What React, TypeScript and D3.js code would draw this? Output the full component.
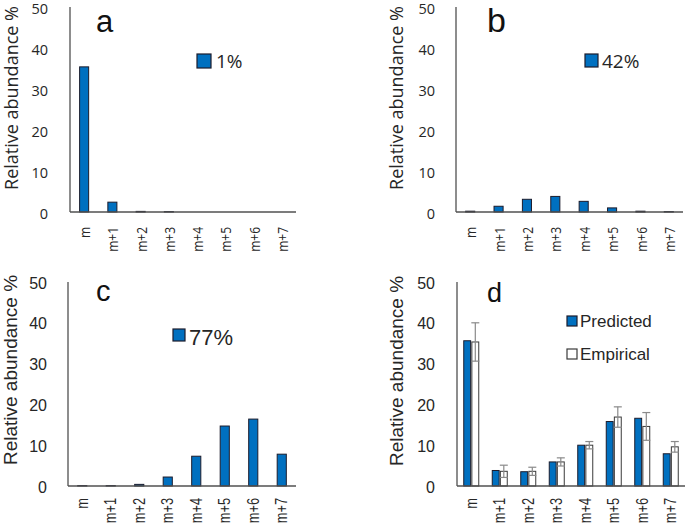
import React from "react";
import * as d3 from "d3";

const categories = ["m", "m+1", "m+2", "m+3", "m+4", "m+5", "m+6", "m+7"];
const yTicks = [0, 10, 20, 30, 40, 50];

const valuesA = [35.4, 2.4, 0.15, 0.1, 0, 0, 0, 0];
const valuesB = [0.2, 1.4, 3.1, 3.8, 2.6, 1.0, 0.2, 0.1];
const valuesC = [0.1, 0.1, 0.4, 2.2, 7.3, 14.7, 16.4, 7.8];
const predictedD = [35.6, 3.8, 3.5, 5.9, 10.0, 15.8, 16.6, 7.9];
const empiricalD = [35.3, 3.6, 3.6, 5.9, 10.0, 16.9, 14.6, 9.6];
const empiricalErrD = [4.7, 1.5, 1.0, 1.0, 0.9, 2.5, 3.4, 1.3];

const legendA = "1%";
const legendB = "42%";
const legendC = "77%";
const seriesD = ["Predicted", "Empirical"];

const BLUE = "#0070C0";
const BAR_STROKE = "#1c1c2c";
const AXIS = "#505050";
const TEXT = "#262626";

type Layout = {
  axisX: number;
  y0: number;
  yTop: number;
  xRight: number;
  font: string;
  tickSize: number;
  xTickSize: number;
  yTickRight: number;
  yLabelX: number;
  yLabelY: number;
  yLabelSize: number;
  xLabelY: number;
  letter: string;
  letterX: number;
  letterY: number;
  letterSize: number;
};

function Axes({ L, x, y }: { L: Layout; x: d3.ScaleBand<string>; y: d3.ScaleLinear<number, number> }) {
  return (
    <g fontFamily={L.font} fill={TEXT}>
      <line x1={L.axisX} x2={L.axisX} y1={y(50)} y2={y(0)} stroke={AXIS} strokeWidth={1.3} />
      <line x1={L.axisX} x2={L.xRight} y1={y(0)} y2={y(0)} stroke={AXIS} strokeWidth={1.3} />
      {yTicks.map((t) => (
        <text key={t} x={L.yTickRight} y={y(t) + 1} textAnchor="end" dominantBaseline="central" fontSize={L.tickSize}>
          {t}
        </text>
      ))}
      {categories.map((c) => {
        const cx = (x(c) as number) + x.bandwidth() / 2;
        return (
          <text
            key={c}
            transform={`translate(${cx},${L.xLabelY}) rotate(-90) scale(0.8,1)`}
            textAnchor="end"
            dominantBaseline="central"
            fontSize={L.xTickSize}
          >
            {c}
          </text>
        );
      })}
      <text
        transform={`translate(${L.yLabelX},${L.yLabelY}) rotate(-90)`}
        textAnchor="middle"
        fontSize={L.yLabelSize}
      >
        Relative abundance %
      </text>
      <text x={L.letterX} y={L.letterY} fontFamily="Liberation Sans, Arial, sans-serif" fontSize={L.letterSize} fill="#111">
        {L.letter}
      </text>
    </g>
  );
}

function SinglePanel({
  L,
  values,
  legend,
  legendBox,
}: {
  L: Layout;
  values: number[];
  legend: string;
  legendBox: { x: number; y: number; s: number; tx: number; ty: number; size: number };
}) {
  const x = d3.scaleBand<string>().domain(categories).range([L.axisX, L.xRight]).padding(0);
  const y = d3.scaleLinear().domain([0, 50]).range([L.y0, L.yTop]);
  const bw = x.bandwidth() * 0.32;
  return (
    <g>
      {values.map((v, i) => {
        const cx = (x(categories[i]) as number) + x.bandwidth() / 2;
        return (
          <rect
            key={i}
            x={cx - bw / 2}
            y={y(v)}
            width={bw}
            height={Math.max(0, y(0) - y(v))}
            fill={BLUE}
            stroke={BAR_STROKE}
            strokeWidth={1}
          />
        );
      })}
      <Axes L={L} x={x} y={y} />
      <rect x={legendBox.x} y={legendBox.y} width={legendBox.s} height={legendBox.s} fill={BLUE} stroke={BAR_STROKE} strokeWidth={1.2} />
      <text x={legendBox.tx} y={legendBox.ty} dominantBaseline="central" fontFamily={L.font} fontSize={legendBox.size} fill={TEXT}>
        {legend}
      </text>
    </g>
  );
}

function PanelD({ L }: { L: Layout }) {
  const x = d3.scaleBand<string>().domain(categories).range([L.axisX, L.xRight]).padding(0);
  const y = d3.scaleLinear().domain([0, 50]).range([L.y0, L.yTop]);
  const sub = d3.scaleBand<string>().domain(seriesD).range([-7.5, 7.5]).paddingInner(0.15);
  const bw = sub.bandwidth();
  return (
    <g>
      {categories.map((c, i) => {
        const cx = (x(c) as number) + x.bandwidth() / 2;
        const px = cx + (sub("Predicted") as number);
        const ex = cx + (sub("Empirical") as number);
        const ecx = ex + bw / 2;
        const hi = y(empiricalD[i] + empiricalErrD[i]);
        const lo = y(empiricalD[i] - empiricalErrD[i]);
        return (
          <g key={c}>
            <rect x={px} y={y(predictedD[i])} width={bw} height={y(0) - y(predictedD[i])} fill={BLUE} stroke={BAR_STROKE} strokeWidth={1} />
            <rect x={ex} y={y(empiricalD[i])} width={bw} height={y(0) - y(empiricalD[i])} fill="#fff" stroke="#3a3a3a" strokeWidth={1} />
            <line x1={ecx} x2={ecx} y1={hi} y2={lo} stroke="#8a8a8a" strokeWidth={1.2} />
            <line x1={ecx - 4} x2={ecx + 4} y1={hi} y2={hi} stroke="#8a8a8a" strokeWidth={1.2} />
            <line x1={ecx - 4} x2={ecx + 4} y1={lo} y2={lo} stroke="#8a8a8a" strokeWidth={1.2} />
          </g>
        );
      })}
      <Axes L={L} x={x} y={y} />
      {seriesD.map((s, i) => (
        <g key={s}>
          <rect
            x={567}
            y={316 + i * 33}
            width={10}
            height={10}
            fill={i === 0 ? BLUE : "#fff"}
            stroke={i === 0 ? BAR_STROKE : "#3a3a3a"}
            strokeWidth={1.2}
          />
          <text x={580} y={321 + i * 33} dominantBaseline="central" fontFamily={L.font} fontSize={17} fill={TEXT}>
            {s}
          </text>
        </g>
      ))}
    </g>
  );
}

const OPEN = "'Open Sans', 'DejaVu Sans', sans-serif";
const ARIAL = "'Liberation Sans', Arial, sans-serif";

const LA: Layout = {
  axisX: 70, y0: 212, yTop: 7, xRight: 296, font: OPEN, tickSize: 14.5, xTickSize: 15,
  yTickRight: 48, yLabelX: 18, yLabelY: 98, yLabelSize: 18, xLabelY: 227,
  letter: "a", letterX: 96, letterY: 32, letterSize: 31,
};
const LB: Layout = {
  axisX: 456, y0: 212, yTop: 7, xRight: 683, font: OPEN, tickSize: 14.5, xTickSize: 15,
  yTickRight: 435, yLabelX: 403, yLabelY: 98, yLabelSize: 18, xLabelY: 227,
  letter: "b", letterX: 487, letterY: 32, letterSize: 34,
};
const LC: Layout = {
  axisX: 68, y0: 486, yTop: 282, xRight: 296, font: ARIAL, tickSize: 16, xTickSize: 16,
  yTickRight: 47, yLabelX: 17, yLabelY: 370, yLabelSize: 19, xLabelY: 498,
  letter: "c", letterX: 96, letterY: 301, letterSize: 29,
};
const LD: Layout = {
  axisX: 457, y0: 486, yTop: 282, xRight: 685, font: ARIAL, tickSize: 16, xTickSize: 16,
  yTickRight: 435, yLabelX: 403, yLabelY: 371, yLabelSize: 19, xLabelY: 498,
  letter: "d", letterX: 487, letterY: 302, letterSize: 27,
};

export default function App() {
  return (
    <svg
      width={685}
      height={531}
      style={{ position: "absolute", left: 0, top: 0, background: "#fff" }}
    >
      <rect width={685} height={531} fill="#fff" />
      <SinglePanel L={LA} values={valuesA} legend={legendA} legendBox={{ x: 197, y: 54, s: 14, tx: 216, ty: 61, size: 19 }} />
      <SinglePanel L={LB} values={valuesB} legend={legendB} legendBox={{ x: 585, y: 54, s: 13, tx: 602, ty: 61, size: 19 }} />
      <SinglePanel L={LC} values={valuesC} legend={legendC} legendBox={{ x: 173, y: 329, s: 12, tx: 189, ty: 337, size: 22 }} />
      <PanelD L={LD} />
    </svg>
  );
}
